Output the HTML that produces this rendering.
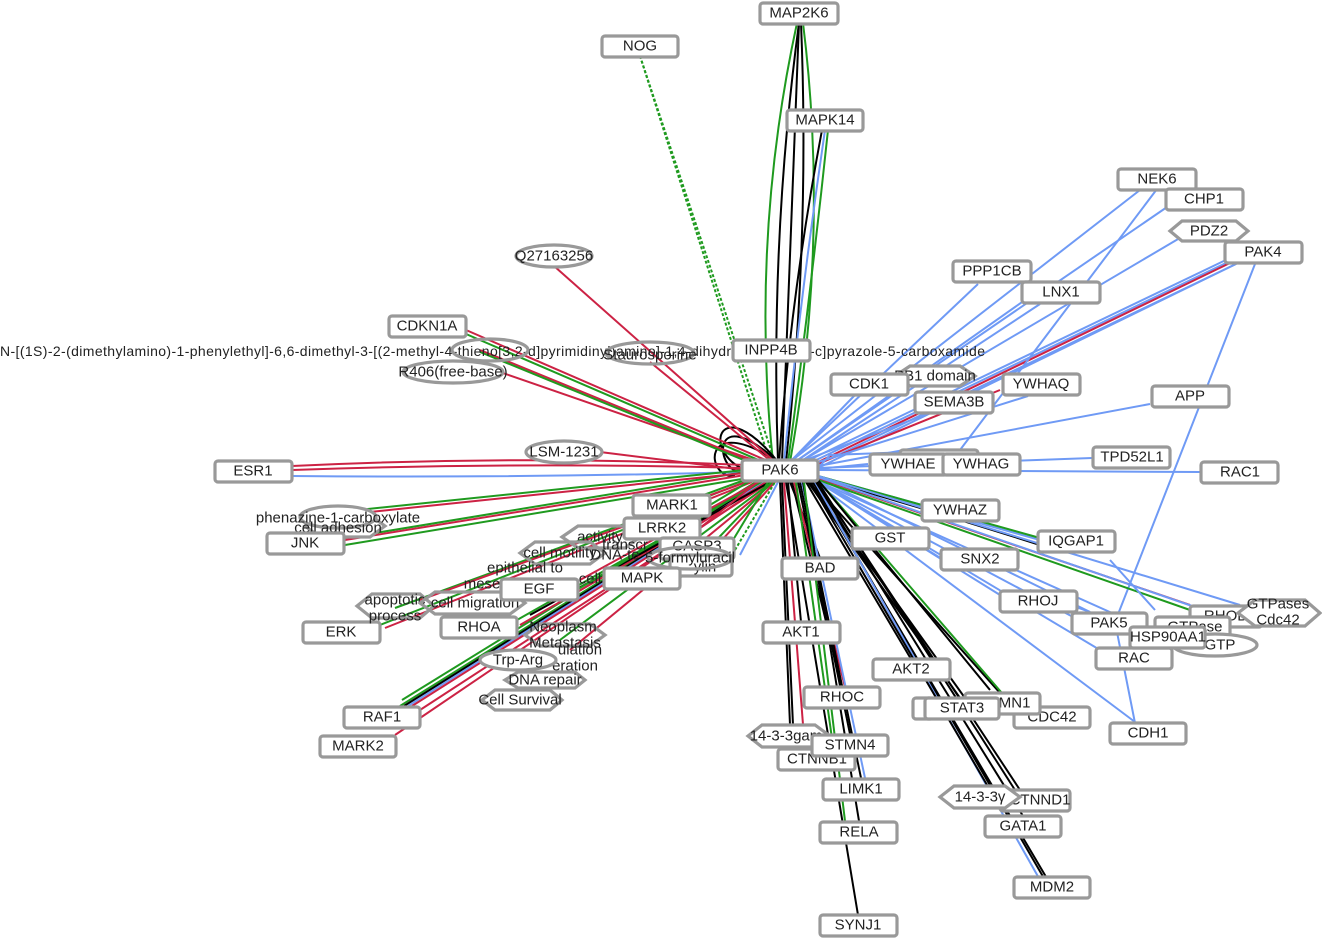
<!DOCTYPE html>
<html><head><meta charset="utf-8"><style>
html,body{margin:0;padding:0;background:#fff;width:1322px;height:939px;overflow:hidden}
svg{display:block}
text{font-family:"Liberation Sans",sans-serif;font-size:15px;fill:#222;text-anchor:middle;dominant-baseline:central}
.n{fill:#fff;stroke:#999;stroke-width:3.2}
.b{stroke:#6f9af5;stroke-width:2;fill:none}
.r{stroke:#cc2244;stroke-width:2;fill:none}
.g{stroke:#1f9a1f;stroke-width:2;fill:none}
.k{stroke:#000;stroke-width:2;fill:none}
.d{stroke:#1f9a1f;stroke-width:2;fill:none;stroke-dasharray:3 2}
</style></head><body>
<svg width="1322" height="939" viewBox="0 0 1322 939">
<path class="d" d="M640 56 L775 462"/>
<path class="d" d="M640 56 L770 462"/>
<path class="k" d="M799 23 Q770 240 778 462"/>
<path class="k" d="M799 23 Q790 240 782 462"/>
<path class="k" d="M801 23 Q810 240 786 462"/>
<path class="g" d="M797 23 Q750 240 773 462"/>
<path class="g" d="M803 23 Q830 240 790 462"/>
<path class="b" d="M825 130 Q800 300 784 462"/>
<path class="k" d="M822 130 Q790 300 779 462"/>
<path class="g" d="M828 130 Q810 300 788 462"/>
<path class="k" d="M778 462 C720 390 700 450 745 470"/>
<path class="k" d="M778 462 C710 400 715 470 740 472"/>
<path class="k" d="M778 462 C700 410 705 480 735 476"/>
<path class="r" d="M554 266 L775 462"/>
<path class="r" d="M650 362 L772 462"/>
<path class="r" d="M466 330 L770 462"/>
<path class="g" d="M466 334 L770 465"/>
<path class="r" d="M500 372 L768 465"/>
<path class="r" d="M480 350 L768 468"/>
<path class="g" d="M480 352 L768 470"/>
<path class="r" d="M600 452 L745 470"/>
<path class="r" d="M292 466 Q520 455 745 465"/>
<path class="r" d="M292 470 Q520 462 745 468"/>
<path class="b" d="M292 476 Q520 478 745 472"/>
<path class="g" d="M345 538 L745 472"/>
<path class="r" d="M345 540 L745 475"/>
<path class="g" d="M345 545 L748 478"/>
<path class="g" d="M310 515 L745 470"/>
<path class="r" d="M312 518 L745 473"/>
<path class="g" d="M380 625 L750 480"/>
<path class="r" d="M385 628 L752 482"/>
<path class="g" d="M395 608 L750 478"/>
<path class="r" d="M420 600 L752 480"/>
<path class="g" d="M400 706 L760 482"/>
<path class="k" d="M404 706 L762 482"/>
<path class="b" d="M408 706 L764 482"/>
<path class="r" d="M412 706 L766 482"/>
<path class="r" d="M395 735 L768 482"/>
<path class="g" d="M402 700 L756 482"/>
<path class="r" d="M420 710 L770 482"/>
<path class="g" d="M517 620 L765 480"/>
<path class="r" d="M520 625 L768 482"/>
<path class="k" d="M530 615 L770 482"/>
<path class="g" d="M560 640 L772 482"/>
<path class="r" d="M570 650 L774 482"/>
<path class="g" d="M578 589 L760 480"/>
<path class="r" d="M580 580 L762 480"/>
<path class="g" d="M680 578 L772 482"/>
<path class="r" d="M690 575 L775 482"/>
<path class="g" d="M710 505 L755 478"/>
<path class="r" d="M700 528 L760 480"/>
<path class="g" d="M730 545 L768 482"/>
<path class="d" d="M735 550 L775 482"/>
<path class="b" d="M740 555 L778 482"/>
<path class="b" d="M1140 190 L790 462"/>
<path class="b" d="M1170 205 L795 462"/>
<path class="b" d="M1190 232 L800 462"/>
<path class="b" d="M1230 258 L805 462"/>
<path class="b" d="M1228 262 L808 464"/>
<path class="r" d="M1232 262 L812 465"/>
<path class="b" d="M1236 264 L815 466"/>
<path class="b" d="M1240 262 L818 468"/>
<path class="b" d="M978 284 L790 462"/>
<path class="b" d="M1040 304 L800 462"/>
<path class="b" d="M1025 300 L795 462"/>
<path class="b" d="M855 395 L790 462"/>
<path class="b" d="M930 413 L800 462"/>
<path class="r" d="M1000 390 L815 465"/>
<path class="b" d="M1028 396 L812 464"/>
<path class="b" d="M1150 404 L818 466"/>
<path class="b" d="M1092 458 L818 468"/>
<path class="b" d="M1200 472 L818 470"/>
<path class="b" d="M868 464 L818 469"/>
<path class="b" d="M960 450 L830 455 L818 468"/>
<path class="b" d="M1255 264 L1115 622 L1135 723"/>
<path class="b" d="M1157 189 L960 450"/>
<path class="b" d="M922 505 L818 476"/>
<path class="b" d="M1040 540 L818 478"/>
<path class="k" d="M1040 545 Q930 510 818 478"/>
<path class="g" d="M1040 538 L818 476"/>
<path class="b" d="M852 535 L815 480"/>
<path class="b" d="M941 559 L815 480"/>
<path class="b" d="M1000 595 L815 480"/>
<path class="b" d="M1075 618 L815 480"/>
<path class="b" d="M1090 612 L818 478"/>
<path class="r" d="M1190 605 L818 478"/>
<path class="g" d="M1190 610 L818 480"/>
<path class="b" d="M1195 607 L818 477"/>
<path class="b" d="M1240 605 L818 476"/>
<path class="b" d="M1150 630 L815 480"/>
<path class="b" d="M1100 650 L815 480"/>
<path class="b" d="M1135 722 L815 482"/>
<path class="b" d="M1110 560 L1155 610"/>
<path class="b" d="M1030 590 L1090 612"/>
<path class="k" d="M780 482 L790 725"/>
<path class="k" d="M782 482 L793 725"/>
<path class="r" d="M784 482 L805 750"/>
<path class="k" d="M786 482 L858 915"/>
<path class="k" d="M788 482 L801 622"/>
<path class="k" d="M790 482 L820 558"/>
<path class="k" d="M792 482 L842 687"/>
<path class="r" d="M794 482 L845 687"/>
<path class="g" d="M796 482 L835 760"/>
<path class="k" d="M798 482 L850 734"/>
<path class="k" d="M800 482 L861 778"/>
<path class="b" d="M802 482 L865 778"/>
<path class="k" d="M803 482 L859 821"/>
<path class="g" d="M804 482 L845 821"/>
<path class="k" d="M806 482 L911 659"/>
<path class="k" d="M808 482 L960 698"/>
<path class="k" d="M810 482 L965 698"/>
<path class="k" d="M812 482 L1000 693"/>
<path class="k" d="M813 482 L1052 887"/>
<path class="k" d="M814 482 L1045 880"/>
<path class="b" d="M815 482 L1040 880"/>
<path class="k" d="M816 482 L1023 816"/>
<path class="k" d="M817 482 L1020 790"/>
<path class="k" d="M818 482 L1015 790"/>
<path class="k" d="M810 482 L990 790"/>
<path class="g" d="M818 480 L1014 707"/>
<path class="k" d="M818 480 L990 690"/>
<text x="0" y="351" style="text-anchor:start;font-size:14px" textLength="985">N-[(1S)-2-(dimethylamino)-1-phenylethyl]-6,6-dimethyl-3-[(2-methyl-4-thieno[3,2-d]pyrimidinyl)amino]-1,4-dihydropyrrolo[3,4-c]pyrazole-5-carboxamide</text>
<ellipse class="n" cx="554" cy="256" rx="38" ry="11"/><text x="554" y="256">Q27163256</text>
<ellipse class="n" cx="650" cy="353" rx="44" ry="11" style="fill:none"/><text x="650" y="355">Staurosporine</text>
<ellipse class="n" cx="490" cy="350" rx="38" ry="11" style="fill:none"/>
<ellipse class="n" cx="453" cy="372" rx="50" ry="11"/><text x="453" y="372">R406(free-base)</text>
<ellipse class="n" cx="564" cy="452" rx="38" ry="11"/><text x="564" y="452">LSM-1231</text>
<polygon class="n" points="305,526 320,515 370,515 385,526 370,537 320,537"/>
<ellipse class="n" cx="338" cy="517" rx="38" ry="11"/><text x="338" y="518">phenazine-1-carboxylate</text>
<text x="338" y="528">cell adhesion</text>
<g>
<rect class="n" x="760" y="3" width="78" height="21" rx="3"/><text x="799" y="13">MAP2K6</text>
<rect class="n" x="602" y="36" width="76" height="21" rx="3"/><text x="640" y="46">NOG</text>
<rect class="n" x="787" y="110" width="76" height="21" rx="3"/><text x="825" y="120">MAPK14</text>
<rect class="n" x="1118" y="169" width="78" height="21" rx="3"/><text x="1157" y="179">NEK6</text>
<rect class="n" x="1166" y="189" width="77" height="21" rx="3"/><text x="1204" y="199">CHP1</text>
<polygon class="n" points="1170,231 1182,221 1236,221 1248,231 1236,241 1182,241"/><text x="1209" y="231">PDZ2</text>
<rect class="n" x="1225" y="242" width="77" height="21" rx="3"/><text x="1263" y="252">PAK4</text>
<rect class="n" x="953" y="261" width="78" height="21" rx="3"/><text x="992" y="271">PPP1CB</text>
<rect class="n" x="1022" y="282" width="78" height="21" rx="3"/><text x="1061" y="292">LNX1</text>
<rect class="n" x="389" y="316" width="77" height="21" rx="3"/><text x="427" y="326">CDKN1A</text>
<rect class="n" x="733" y="340" width="77" height="21" rx="3"/><text x="771" y="350">INPP4B</text>
<polygon class="n" points="895,376 910,366 960,366 975,376 960,386 910,386"/><text x="935" y="376">PB1 domain</text>
<rect class="n" x="831" y="374" width="77" height="21" rx="3"/><text x="869" y="384">CDK1</text>
<rect class="n" x="915" y="392" width="78" height="21" rx="3"/><text x="954" y="402">SEMA3B</text>
<rect class="n" x="1003" y="374" width="77" height="21" rx="3"/><text x="1041" y="384">YWHAQ</text>
<rect class="n" x="1152" y="386" width="77" height="21" rx="3"/><text x="1190" y="396">APP</text>
<rect class="n" x="215" y="461" width="77" height="21" rx="3"/><text x="253" y="471">ESR1</text>
<rect class="n" x="742" y="460" width="76" height="21" rx="3"/><text x="780" y="470">PAK6</text>
<rect class="n" x="900" y="450" width="78" height="14" rx="3"/>
<rect class="n" x="870" y="454" width="77" height="21" rx="3"/><text x="908" y="464">YWHAE</text>
<rect class="n" x="943" y="454" width="77" height="21" rx="3"/><text x="981" y="464">YWHAG</text>
<rect class="n" x="1093" y="447" width="77" height="21" rx="3"/><text x="1132" y="457">TPD52L1</text>
<rect class="n" x="1201" y="462" width="77" height="21" rx="3"/><text x="1240" y="472">RAC1</text>
<rect class="n" x="922" y="500" width="77" height="21" rx="3"/><text x="960" y="510">YWHAZ</text>
<rect class="n" x="267" y="533" width="77" height="21" rx="3"/><text x="305" y="543">JNK</text>
<rect class="n" x="1038" y="531" width="77" height="21" rx="3"/><text x="1076" y="541">IQGAP1</text>
<rect class="n" x="852" y="528" width="77" height="21" rx="3"/><text x="890" y="538">GST</text>
<rect class="n" x="941" y="549" width="77" height="21" rx="3"/><text x="980" y="559">SNX2</text>
<rect class="n" x="782" y="558" width="76" height="21" rx="3"/><text x="820" y="568">BAD</text>
<rect class="n" x="303" y="622" width="77" height="21" rx="3"/><text x="341" y="632">ERK</text>
<rect class="n" x="1000" y="591" width="77" height="21" rx="3"/><text x="1038" y="601">RHOJ</text>
<rect class="n" x="763" y="622" width="77" height="21" rx="3"/><text x="801" y="632">AKT1</text>
<rect class="n" x="1190" y="606" width="72" height="21" rx="3"/><text x="1226" y="616">RHOD</text>
<rect class="n" x="1155" y="617" width="75" height="21" rx="3"/><text x="1195" y="627">GTPase</text>
<ellipse class="n" cx="1215" cy="645" rx="42" ry="11"/><text x="1220" y="645">GTP</text>
<polygon class="n" points="1238,613 1255,600 1305,600 1320,613 1305,626 1255,626"/><text x="1278" y="604">GTPases</text><text x="1278" y="620">Cdc42</text>
<rect class="n" x="1072" y="613" width="75" height="21" rx="3"/><text x="1109" y="623">PAK5</text>
<rect class="n" x="1096" y="648" width="76" height="21" rx="3"/><text x="1134" y="658">RAC</text>
<rect class="n" x="1130" y="627" width="75" height="21" rx="3"/><text x="1168" y="637">HSP90AA1</text>
<rect class="n" x="873" y="659" width="77" height="21" rx="3"/><text x="911" y="669">AKT2</text>
<rect class="n" x="804" y="687" width="76" height="21" rx="3"/><text x="842" y="697">RHOC</text>
<rect class="n" x="1014" y="707" width="76" height="21" rx="3"/><text x="1052" y="717">CDC42</text>
<rect class="n" x="965" y="693" width="75" height="21" rx="3"/><text x="1005" y="703">STMN1</text>
<rect class="n" x="913" y="698" width="20" height="21" rx="3"/>
<rect class="n" x="925" y="698" width="74" height="21" rx="3"/><text x="962" y="708">STAT3</text>
<rect class="n" x="1110" y="723" width="76" height="21" rx="3"/><text x="1148" y="733">CDH1</text>
<rect class="n" x="344" y="707" width="76" height="21" rx="3"/><text x="382" y="717">RAF1</text>
<rect class="n" x="320" y="736" width="76" height="21" rx="3"/><text x="358" y="746">MARK2</text>
<polygon class="n" points="748,736 762,725 815,725 830,736 815,747 762,747"/><text x="786" y="736">14-3-3gam</text>
<rect class="n" x="778" y="749" width="77" height="21" rx="3"/><text x="817" y="759">CTNNB1</text>
<rect class="n" x="812" y="735" width="76" height="21" rx="3"/><text x="850" y="745">STMN4</text>
<rect class="n" x="823" y="779" width="76" height="21" rx="3"/><text x="861" y="789">LIMK1</text>
<rect class="n" x="1000" y="790" width="70" height="21" rx="3"/><text x="1040" y="800">CTNND1</text>
<polygon class="n" points="940,797 954,786 1005,786 1020,797 1005,808 954,808"/><text x="980" y="797">14-3-3γ</text>
<rect class="n" x="985" y="816" width="76" height="21" rx="3"/><text x="1023" y="826">GATA1</text>
<rect class="n" x="820" y="822" width="77" height="21" rx="3"/><text x="859" y="832">RELA</text>
<rect class="n" x="1014" y="877" width="76" height="21" rx="3"/><text x="1052" y="887">MDM2</text>
<rect class="n" x="820" y="915" width="77" height="21" rx="3"/><text x="858" y="925">SYNJ1</text>
<polygon class="n" points="562,537 578,526 625,526 640,537 625,548 578,548" style="fill:none"/><text x="600" y="537">activity</text>
<rect class="n" x="624" y="518" width="76" height="21" rx="3"/><text x="662" y="528">LRRK2</text>
<rect class="n" x="633" y="495" width="77" height="21" rx="3"/><text x="672" y="505">MARK1</text>
<rect class="n" x="660" y="538" width="74" height="21" rx="3"/><text x="697" y="546">CASP3</text>
<rect class="n" x="670" y="555" width="62" height="21" rx="3"/><text x="705" y="567">ylin</text>
<ellipse class="n" cx="690" cy="558" rx="42" ry="11" style="fill:none"/><text x="690" y="558">5-formyluracil</text>
<polygon class="n" points="520,553 535,542 590,542 605,553 590,564 535,564" style="fill:none"/><text x="560" y="553">cell motility</text><text x="625" y="545">transcr</text><text x="615" y="555">DNA-te</text>
<text x="525" y="568">epithelial to</text><text x="510" y="584">mesenchymal</text>
<rect class="n" x="604" y="568" width="76" height="21" rx="3"/><text x="642" y="578">MAPK</text><text x="590" y="579">cell</text>
<polygon class="n" points="357,606 372,594 420,594 434,606 420,618 372,618" style="fill:none"/><text x="395" y="600">apoptotic</text><text x="395" y="616">process</text>
<polygon class="n" points="420,603 435,592 510,592 525,603 510,614 435,614" style="fill:none"/><text x="475" y="603">cell migration</text>
<rect class="n" x="501" y="579" width="77" height="21" rx="3"/><text x="539" y="589">EGF</text>
<rect class="n" x="441" y="617" width="76" height="21" rx="3"/><text x="479" y="627">RHOA</text>
<polygon class="n" points="525,635 540,624 590,624 605,635 590,646 540,646" style="fill:none"/><text x="563" y="627">Neoplasm</text><text x="565" y="643">Metastasis</text><text x="580" y="650">ulation</text><text x="575" y="666">eration</text>
<ellipse class="n" cx="518" cy="660" rx="38" ry="10"/><text x="518" y="660">Trp-Arg</text>
<polygon class="n" points="505,680 518,672 575,672 585,680 575,688 518,688" style="fill:none"/><text x="545" y="680">DNA repair</text>
<polygon class="n" points="482,700 495,690 550,690 562,700 550,710 495,710" style="fill:none"/><text x="520" y="700">Cell Survival</text>
</g>
</svg>
</body></html>
